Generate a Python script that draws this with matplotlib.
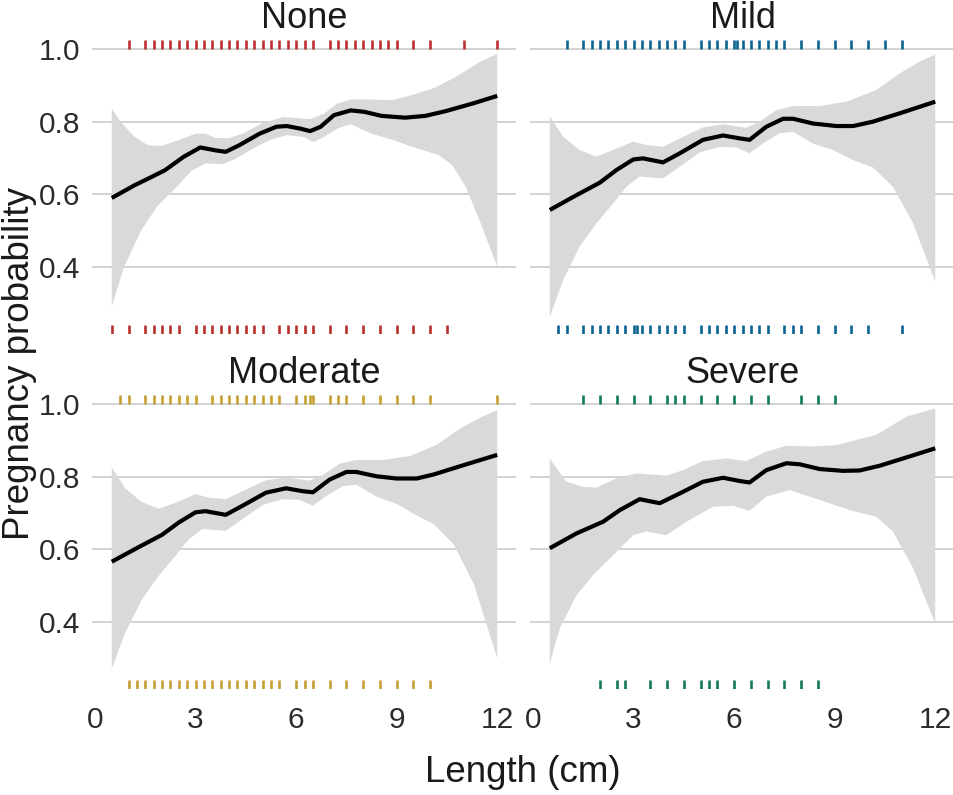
import numpy as np
import matplotlib
matplotlib.use("Agg")
import matplotlib.pyplot as plt
import matplotlib.transforms as mtransforms

plt.rcParams['font.family'] = ['Liberation Sans', 'DejaVu Sans']

panels = ["None", "Mild", "Moderate", "Severe"]
rug_colors = ["#BC2F2F", "#0A6590", "#C4A032", "#13795B"]

# rug data: lengths of pregnant (1) and non-pregnant (0) observations
none_1 = [1.0, 1.5, 1.75, 2.0, 2.25, 2.5, 2.75, 3.0, 3.25, 3.5, 3.75, 4.0, 4.25, 4.5, 4.75,
          5.0, 5.25, 5.5, 5.75, 6.0, 6.25, 6.5, 7.0, 7.25, 7.5, 7.75, 8.0, 8.25, 8.5, 8.75,
          9.0, 9.5, 10.0, 11.0, 12.0]
none_0 = [0.5, 1.0, 1.5, 1.75, 2.0, 2.25, 2.5, 3.0, 3.25, 3.5, 3.75, 4.0, 4.25, 4.5, 4.75,
          5.0, 5.5, 5.75, 6.0, 6.25, 6.5, 7.0, 7.5, 8.0, 8.5, 9.0, 9.5, 10.0, 10.5]
mild_1 = [1.0, 1.5, 1.75, 2.0, 2.25, 2.5, 2.75, 3.0, 3.25, 3.5, 3.75, 4.0, 4.25, 4.5, 5.0,
          5.25, 5.5, 5.75, 6.0, 6.1, 6.25, 6.5, 6.75, 7.0, 7.25, 7.5, 8.0, 8.5, 9.0, 9.5,
          10.0, 10.5, 11.0]
mild_0 = [0.75, 1.0, 1.5, 1.75, 2.0, 2.25, 2.5, 2.75, 3.0, 3.1, 3.25, 3.5, 3.75, 4.0, 4.25,
          4.5, 5.0, 5.25, 5.5, 5.75, 6.0, 6.25, 6.5, 6.75, 7.0, 7.5, 7.75, 8.0, 8.5, 9.0,
          9.5, 10.0, 11.0]
moderate_1 = [0.75, 1.0, 1.5, 1.75, 2.0, 2.25, 2.5, 2.75, 3.0, 3.5, 3.75, 4.0, 4.25, 4.5,
              4.75, 5.0, 5.25, 5.5, 6.0, 6.25, 6.4, 6.5, 7.0, 7.25, 7.5, 8.0, 8.5, 9.0,
              9.5, 10.0, 12.0]
moderate_0 = [1.0, 1.25, 1.5, 1.75, 2.0, 2.25, 2.5, 2.75, 3.0, 3.25, 3.5, 3.75, 4.0, 4.25,
              4.5, 4.75, 5.0, 5.25, 5.5, 6.0, 6.25, 6.5, 7.0, 7.5, 8.0, 8.5, 9.0, 9.5, 10.0]
severe_1 = [1.5, 2.0, 2.5, 3.0, 3.5, 4.0, 4.25, 4.5, 5.0, 5.5, 6.0, 6.5, 7.0, 8.0, 8.5, 9.0]
severe_0 = [2.0, 2.5, 2.75, 3.5, 4.0, 4.5, 5.0, 5.25, 5.5, 6.0, 6.5, 7.0, 7.5, 8.0, 8.5]

# fitted curves
none_fit_x = [0.5, 1.18, 1.58, 2.08, 2.64, 3.14, 3.6, 3.9, 4.3, 4.91, 5.41, 5.72, 6.12, 6.42,
              6.73, 7.13, 7.63, 8.04, 8.54, 9.25, 9.86, 10.46, 11.27, 12.0]
none_fit_y = [0.590, 0.625, 0.643, 0.666, 0.703, 0.729, 0.721, 0.717, 0.735, 0.767, 0.786,
              0.788, 0.781, 0.774, 0.786, 0.818, 0.831, 0.827, 0.816, 0.811, 0.816, 0.829,
              0.850, 0.871]
none_up_x = [0.5, 0.77, 1.18, 1.58, 1.98, 2.49, 3.0, 3.3, 3.6, 4.0, 4.4, 5.02, 5.62, 6.02,
             6.42, 6.83, 7.23, 7.63, 8.24, 8.85, 9.45, 10.16, 10.76, 11.47, 12.0]
none_up_y = [0.836, 0.799, 0.758, 0.735, 0.733, 0.749, 0.767, 0.767, 0.755, 0.755, 0.767,
             0.797, 0.813, 0.810, 0.807, 0.822, 0.850, 0.861, 0.861, 0.859, 0.873, 0.894,
             0.923, 0.964, 0.987]
none_lo_x = [0.5, 0.87, 1.38, 1.88, 2.39, 2.89, 3.3, 3.8, 4.2, 4.81, 5.21, 5.72, 6.22, 6.52,
             6.83, 7.23, 7.63, 8.24, 8.85, 9.45, 10.26, 10.66, 11.06, 11.47, 12.0]
none_lo_y = [0.291, 0.401, 0.501, 0.570, 0.616, 0.666, 0.685, 0.683, 0.698, 0.731, 0.749,
             0.763, 0.758, 0.744, 0.758, 0.781, 0.793, 0.767, 0.751, 0.731, 0.708, 0.680,
             0.621, 0.529, 0.401]

mild_fit_x = [0.5, 1.3, 1.99, 2.49, 2.99, 3.28, 3.88, 4.38, 5.07, 5.67, 6.17, 6.46, 6.96,
              7.46, 7.76, 8.35, 9.05, 9.55, 10.14, 10.94, 12.0]
mild_fit_y = [0.557, 0.598, 0.632, 0.667, 0.696, 0.699, 0.688, 0.713, 0.750, 0.762, 0.754,
              0.750, 0.786, 0.808, 0.808, 0.795, 0.788, 0.788, 0.800, 0.823, 0.855]
mild_up_x = [0.5, 0.9, 1.39, 1.89, 2.39, 2.99, 3.38, 3.88, 4.38, 5.07, 5.67, 6.36, 6.76,
             7.26, 7.76, 8.55, 9.35, 10.24, 10.94, 11.53, 12.0]
mild_up_y = [0.814, 0.759, 0.722, 0.704, 0.722, 0.745, 0.736, 0.731, 0.754, 0.784, 0.793,
             0.783, 0.800, 0.832, 0.843, 0.843, 0.855, 0.887, 0.933, 0.965, 0.985]
mild_lo_x = [0.5, 0.9, 1.39, 1.89, 2.39, 2.79, 3.18, 3.88, 4.38, 4.97, 5.57, 6.07, 6.46,
             6.86, 7.36, 7.76, 8.35, 8.95, 9.55, 10.14, 10.74, 11.34, 12.0]
mild_lo_y = [0.263, 0.364, 0.456, 0.520, 0.575, 0.621, 0.649, 0.644, 0.676, 0.715, 0.731,
             0.729, 0.713, 0.740, 0.768, 0.772, 0.740, 0.722, 0.694, 0.674, 0.621, 0.520,
             0.360]

moderate_fit_x = [0.5, 1.3, 2.0, 2.5, 3.0, 3.3, 3.9, 4.4, 5.1, 5.7, 6.2, 6.5, 7.0, 7.5,
                  7.8, 8.4, 9.0, 9.6, 10.1, 10.9, 12.0]
moderate_fit_y = [0.566, 0.606, 0.640, 0.674, 0.702, 0.705, 0.695, 0.720, 0.756, 0.768,
                  0.760, 0.757, 0.792, 0.813, 0.813, 0.801, 0.795, 0.795, 0.806, 0.829, 0.860]
moderate_up_x = [0.5, 0.9, 1.4, 1.9, 2.4, 3.0, 3.4, 3.9, 4.4, 5.1, 5.7, 6.4, 6.8, 7.3,
                 7.8, 8.6, 9.4, 10.2, 10.9, 11.5, 12.0]
moderate_up_y = [0.826, 0.768, 0.730, 0.712, 0.728, 0.752, 0.742, 0.738, 0.760, 0.790,
                 0.798, 0.789, 0.805, 0.836, 0.846, 0.846, 0.857, 0.888, 0.933, 0.963, 0.983]
moderate_lo_x = [0.5, 0.9, 1.4, 1.9, 2.4, 2.8, 3.2, 3.9, 4.4, 5.0, 5.6, 6.1, 6.5, 6.9,
                 7.4, 7.8, 8.4, 9.0, 9.6, 10.1, 10.7, 11.3, 12.0]
moderate_lo_y = [0.272, 0.370, 0.462, 0.527, 0.582, 0.628, 0.656, 0.651, 0.683, 0.722,
                 0.738, 0.736, 0.720, 0.747, 0.774, 0.778, 0.745, 0.725, 0.693, 0.670, 0.614,
                 0.505, 0.300]

severe_fit_x = [0.5, 1.3, 2.09, 2.59, 3.18, 3.78, 4.38, 5.07, 5.67, 6.17, 6.46, 6.96, 7.56,
                7.96, 8.55, 9.25, 9.74, 10.34, 11.14, 12.0]
severe_fit_y = [0.603, 0.644, 0.676, 0.708, 0.738, 0.727, 0.754, 0.786, 0.797, 0.788, 0.784,
                0.818, 0.837, 0.834, 0.821, 0.816, 0.817, 0.830, 0.853, 0.878]
severe_up_x = [0.5, 1.0, 1.49, 1.89, 2.49, 3.08, 3.98, 4.48, 5.07, 5.77, 6.36, 6.96, 7.56,
               8.35, 9.05, 10.24, 11.14, 12.0]
severe_up_y = [0.849, 0.786, 0.772, 0.770, 0.795, 0.809, 0.803, 0.818, 0.843, 0.850, 0.843,
               0.869, 0.885, 0.883, 0.887, 0.915, 0.965, 0.988]
severe_lo_x = [0.5, 0.8, 1.3, 1.79, 2.39, 2.99, 3.38, 3.98, 4.58, 5.37, 5.97, 6.46, 6.96,
               7.66, 8.45, 9.45, 10.24, 10.74, 11.34, 12.0]
severe_lo_y = [0.286, 0.383, 0.474, 0.529, 0.584, 0.639, 0.649, 0.639, 0.676, 0.717, 0.720,
               0.706, 0.745, 0.763, 0.739, 0.708, 0.690, 0.649, 0.548, 0.396]

rugs_1 = [none_1, mild_1, moderate_1, severe_1]
rugs_0 = [none_0, mild_0, moderate_0, severe_0]
fits = [(none_fit_x, none_fit_y), (mild_fit_x, mild_fit_y),
        (moderate_fit_x, moderate_fit_y), (severe_fit_x, severe_fit_y)]
uppers = [(none_up_x, none_up_y), (mild_up_x, mild_up_y),
          (moderate_up_x, moderate_up_y), (severe_up_x, severe_up_y)]
lowers = [(none_lo_x, none_lo_y), (mild_lo_x, mild_lo_y),
          (moderate_lo_x, moderate_lo_y), (severe_lo_x, severe_lo_y)]

x_ticks = [0, 3, 6, 9, 12]
y_ticks = [0.4, 0.6, 0.8, 1.0]
y_tick_labels = ["0.4", "0.6", "0.8", "1.0"]

fig = plt.figure(figsize=(9.54, 7.95), dpi=100)
W, H = 954.0, 795.0
lefts = [92.5, 530.5]
width = 424.0
tops = [40.0, 395.0]
height = 294.0

for i, name in enumerate(panels):
    r, c = divmod(i, 2)
    ax = fig.add_axes([lefts[c] / W, 1 - (tops[r] + height) / H, width / W, height / H])
    ax.set_xlim(-0.075, 12.575)
    ax.set_ylim(0.2156, 1.0248)
    for s in ax.spines.values():
        s.set_visible(False)
    ax.set_yticks(y_ticks)
    ax.grid(axis='y', color='#CFCFCF', linewidth=1.3, zorder=0)
    ax.set_axisbelow(True)
    ax.tick_params(length=0, labelsize=21.5, colors='#2B2B2B', pad=9)
    if c == 0:
        ax.set_yticklabels(y_tick_labels)
    else:
        ax.set_yticklabels([])
    ax.set_xticks(x_ticks)
    if r == 1:
        ax.set_xticklabels([str(t) for t in x_ticks])
        ax.tick_params(axis='x', pad=12)
    else:
        ax.set_xticklabels([])

    ux, uy = uppers[i]
    lx, ly = lowers[i]
    ax.fill(np.concatenate([ux, lx[::-1]]), np.concatenate([uy, ly[::-1]]),
            color='#D9D9D9', linewidth=0, zorder=1)
    fx, fy = fits[i]
    ax.plot(fx, fy, color='black', linewidth=3.0, solid_capstyle='butt',
            solid_joinstyle='round', zorder=3)

    trans = mtransforms.blended_transform_factory(ax.transData, ax.transAxes)
    ax.vlines(rugs_1[i], 0.97, 1.0, transform=trans, color=rug_colors[i], linewidth=1.9, zorder=2)
    ax.vlines(rugs_0[i], 0.0, 0.03, transform=trans, color=rug_colors[i], linewidth=1.9, zorder=2)

    ax.text(0.5, 1.0 + 22.0 / height, name, transform=ax.transAxes, ha='center', va='center',
            fontsize=26, color='#1A1A1A')

fig.text(523 / W, 1 - 773 / H, "Length (cm)", ha='center', va='center', fontsize=26.5,
         color='#1A1A1A')
fig.text(20 / W, 1 - 364 / H, "Pregnancy probability", ha='center', va='center',
         rotation=90, fontsize=26.5, color='#1A1A1A')

fig.savefig("out.png", dpi=100)
